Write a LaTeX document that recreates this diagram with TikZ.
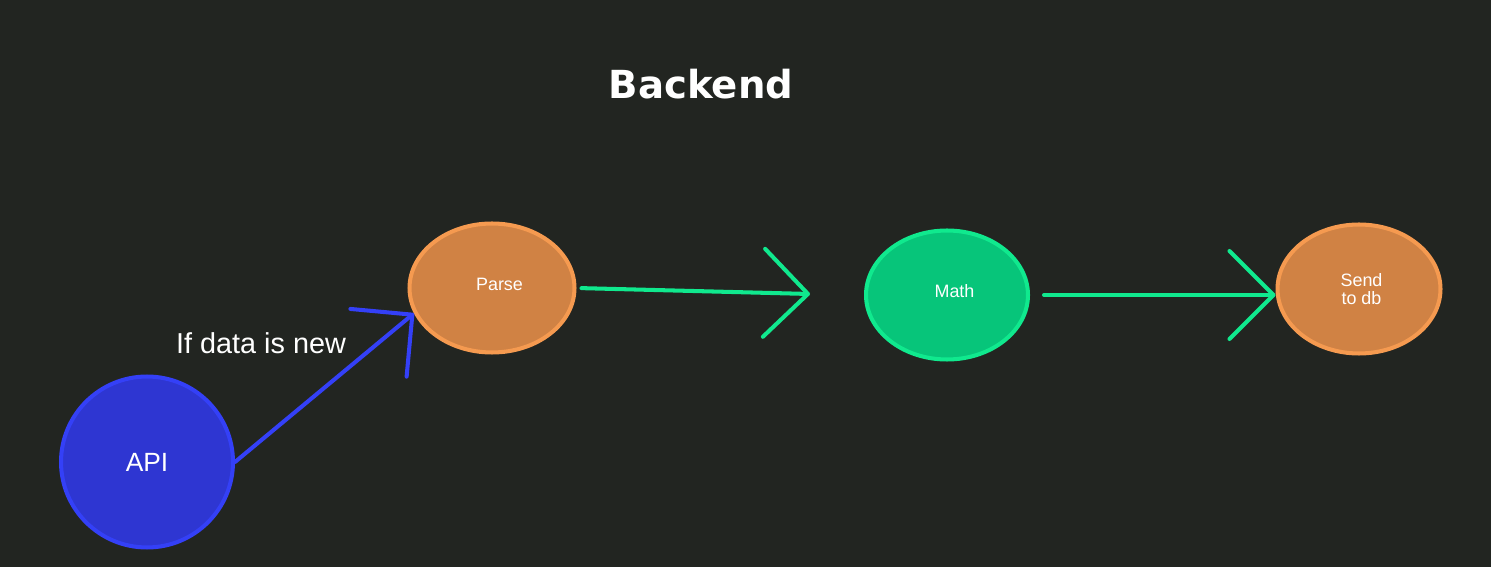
\documentclass[tikz,border=0pt]{standalone}
\usepackage{fontspec}
\setmainfont{Liberation Sans}
\newfontfamily\titlefont{DejaVu Sans}
\usetikzlibrary{shapes.geometric,arrows.meta}

\begin{document}
\begin{tikzpicture}[x=0.02cm,y=-0.02cm,
    bubble/.style={ellipse,draw,line width=2.3pt,inner sep=0pt,text=white,
      align=center,font=\fontsize{10.2}{10.4}\selectfont},
    link/.style={line width=2.3pt,line cap=round,
      -{Straight Barb[length=0.88cm,width=1.76cm,round]}}]

% Changing color 34 37 33
\definecolor{r34g37b33}{rgb}{0.133333,0.145098,0.129412}%
\definecolor{r46g54b210}{rgb}{0.180392,0.211765,0.823529}%
\definecolor{r52g64b247}{rgb}{0.203922,0.250980,0.968627}%
\definecolor{r208g130b68}{rgb}{0.815686,0.509804,0.266667}%
\definecolor{r245g154b80}{rgb}{0.960784,0.603922,0.313725}%
\definecolor{r7g197b122}{rgb}{0.027451,0.772549,0.478431}%
\definecolor{r16g233b142}{rgb}{0.062745,0.913725,0.556863}%

% Filling background left-top: O right-bottom: (1491,567)
\fill[r34g37b33] (0,0) rectangle (1491,567);%

% Marking title
\node (title) at (701,84) [text=white,font=\titlefont\bfseries\fontsize{22}{26}\selectfont] {Backend};%

% Drawing node API
\node (api) at (147,462) [bubble,fill=r46g54b210,draw=r52g64b247,
  minimum width=3.44cm,minimum height=3.42cm,font=\fontsize{15}{18}\selectfont] {API};%

% Drawing node Parse
\node (parse) at (492,288) [bubble,fill=r208g130b68,draw=r245g154b80,
  minimum width=3.3cm,minimum height=2.58cm] {\hspace*{0.3cm}\raisebox{0.16cm}{Parse}};%

% Drawing node Math
\node (math) at (947,295) [bubble,fill=r7g197b122,draw=r16g233b142,
  minimum width=3.24cm,minimum height=2.58cm] {\hspace*{0.3cm}\raisebox{0.16cm}{Math}};%

% Drawing node Send to db
\node (send) at (1359,289) [bubble,fill=r208g130b68,draw=r245g154b80,
  minimum width=3.26cm,minimum height=2.58cm] {\hspace*{0.1cm}Send\\\hspace*{0.1cm}to db};%

% Marking condition
\node (cond) at (261,343) [text=white,font=\fontsize{16.4}{19}\selectfont] {If data is new};%

% Drawing arrows
\coordinate (mathin) at (810,294);%
\coordinate (sendin) at (send.west |- math.east);%
\draw[link,r52g64b247] (api.east) -- (parse.198);%
\draw[link,r16g233b142,shorten <=0.1cm] (parse.east) -- (mathin);%
\draw[link,r16g233b142,shorten <=0.28cm] (math.east) -- (sendin);%

\end{tikzpicture}
\end{document}
